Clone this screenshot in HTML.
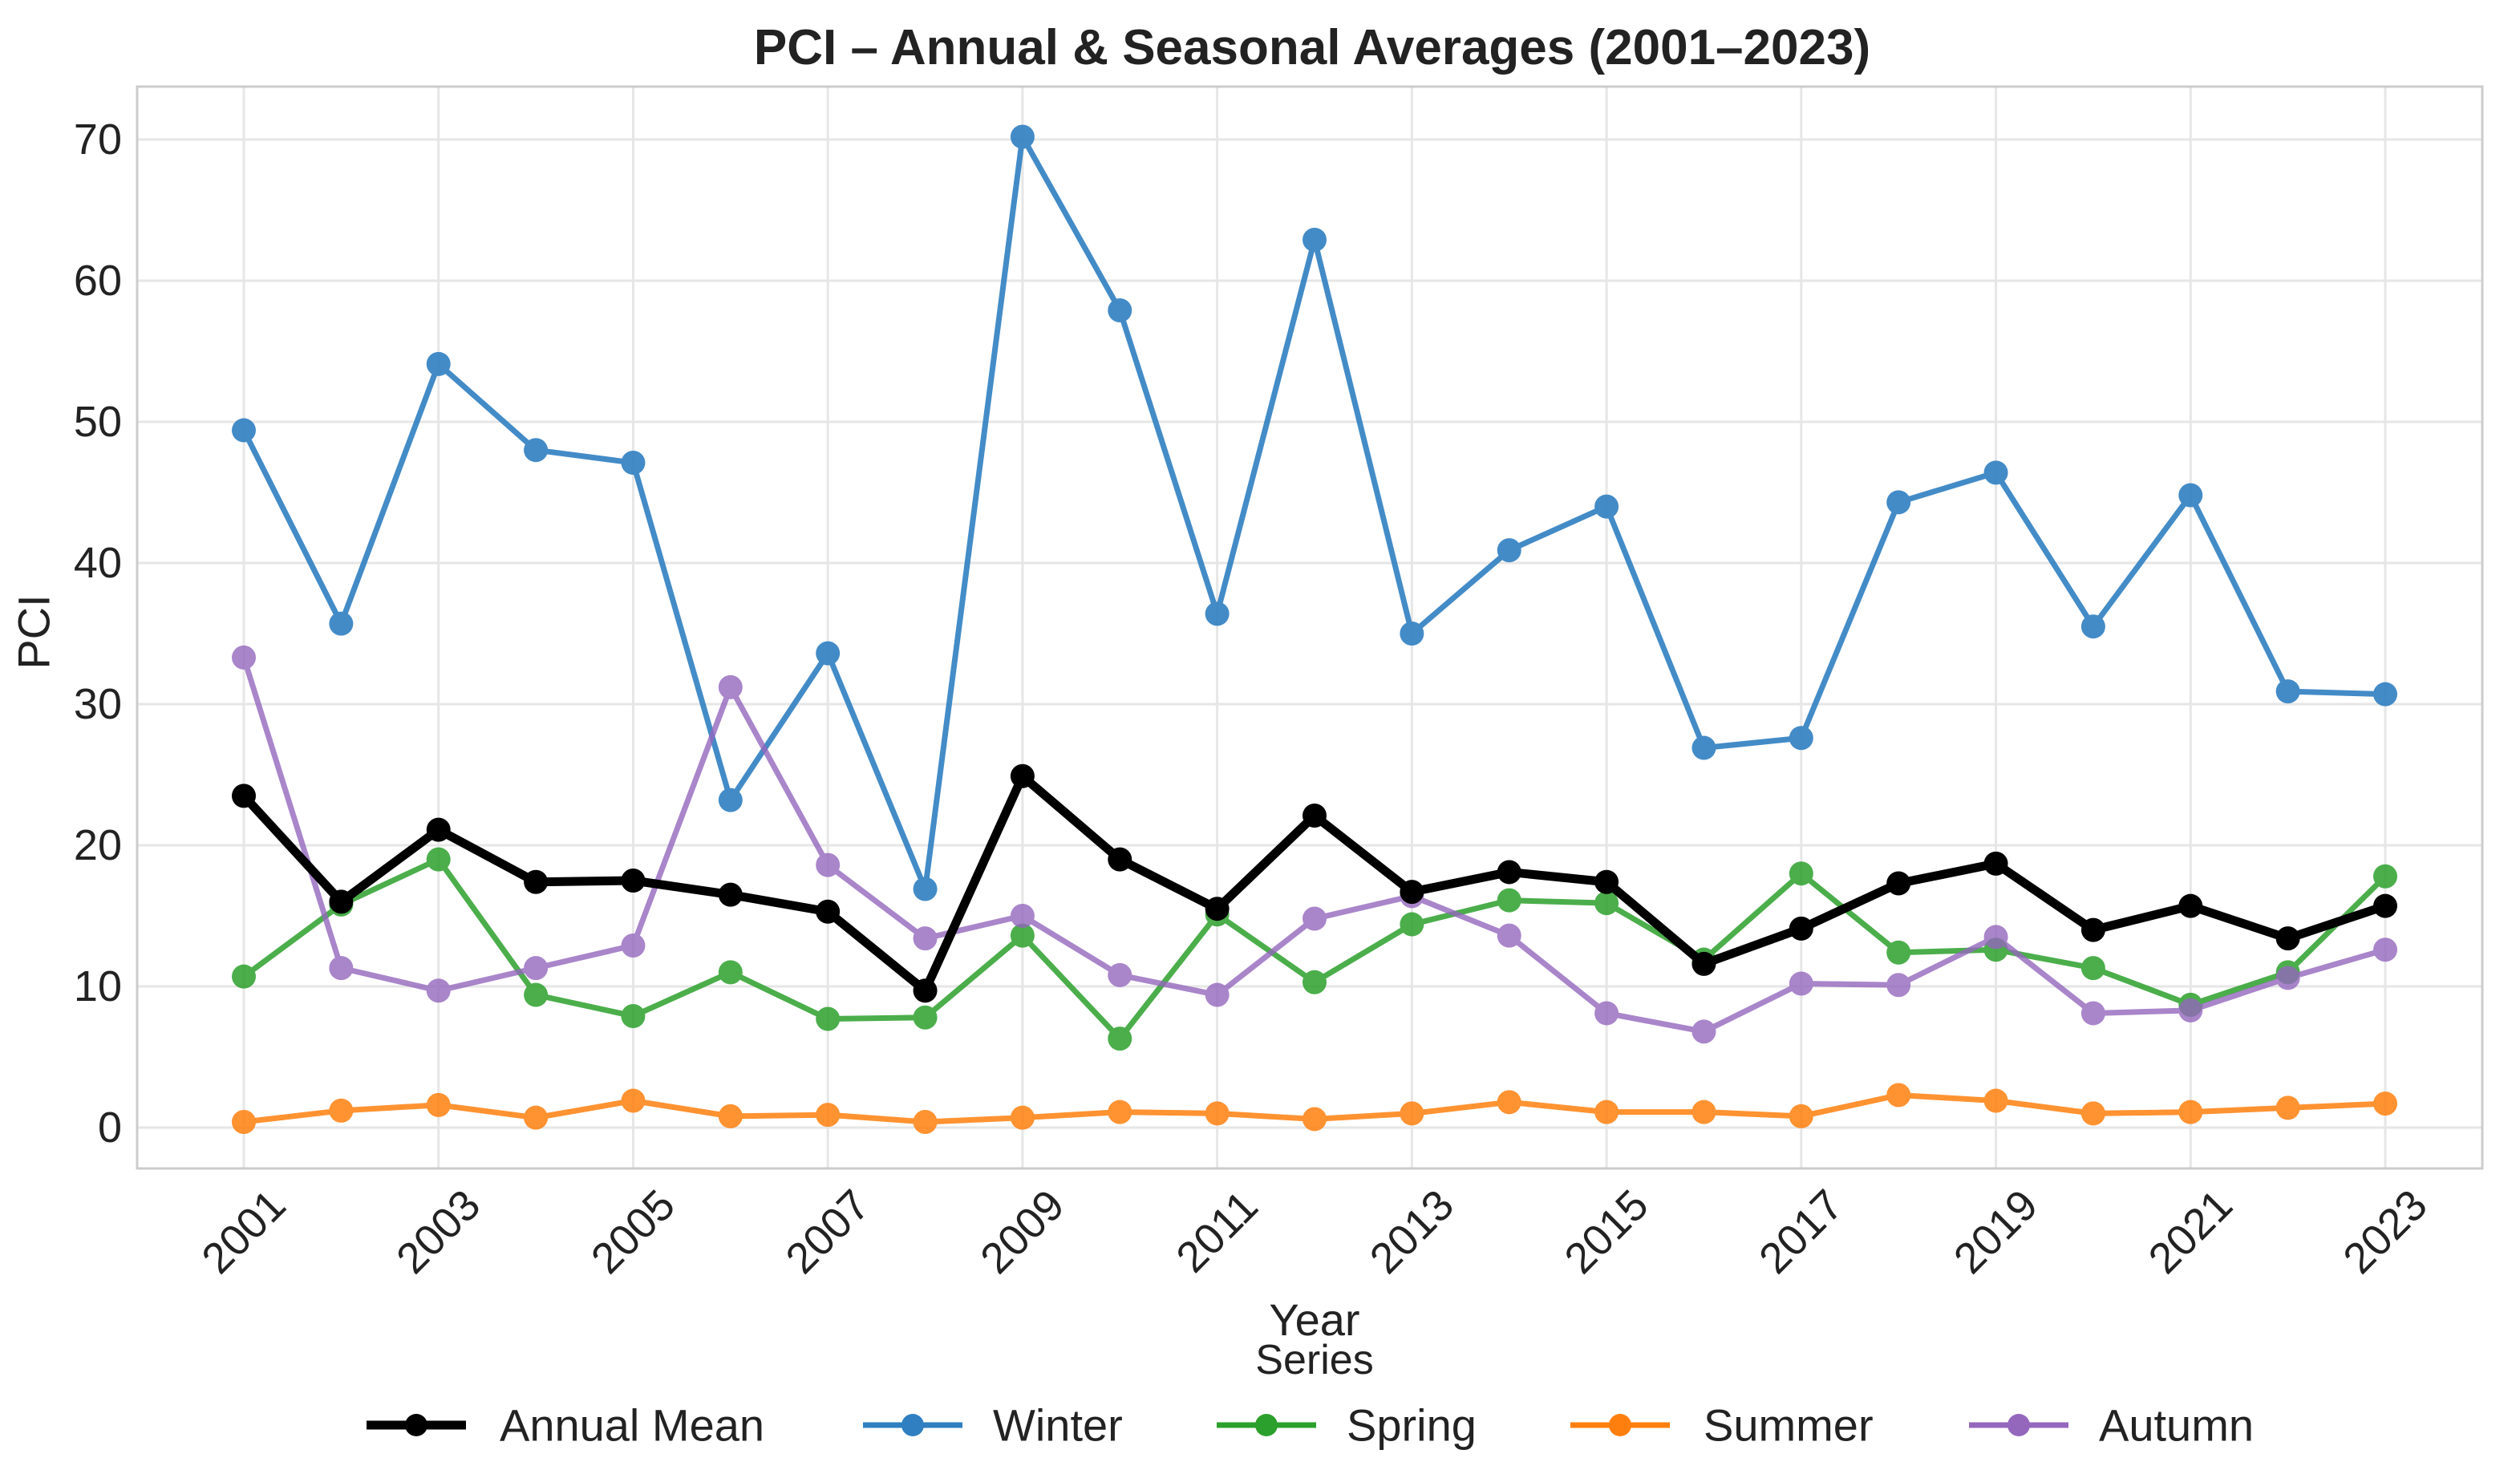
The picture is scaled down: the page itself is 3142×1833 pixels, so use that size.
<!DOCTYPE html>
<html><head><meta charset="utf-8"><style>
html,body{margin:0;padding:0;background:#fff;}
svg{display:block;font-family:"Liberation Sans",Arial,sans-serif;}
</style></head><body>
<svg id="chart" width="3142" height="1833" viewBox="0 0 3142 1833">
<rect x="0" y="0" width="3142" height="1833" fill="#fff"/>
<g id="grid"></g>
<rect x="171" y="108" width="2924" height="1349" fill="none" stroke="#cccccc" stroke-width="3"/>
<g id="series"></g>
<g id="ticks"></g>
<text x="1636" y="80" text-anchor="middle" font-size="62" font-weight="bold" fill="#222">PCI – Annual &amp; Seasonal Averages (2001–2023)</text>
<text x="42" y="788" text-anchor="middle" font-size="56" fill="#222" transform="rotate(-90 42 788)" dominant-baseline="central">PCI</text>
<text x="1639" y="1665" text-anchor="middle" font-size="56" fill="#222">Year</text>
<text x="1639" y="1713" text-anchor="middle" font-size="52" fill="#222">Series</text>
<g id="legend"></g>
</svg>
<script>
const years = [2001,2002,2003,2004,2005,2006,2007,2008,2009,2010,2011,2012,2013,2014,2015,2016,2017,2018,2019,2020,2021,2022,2023];
const annualMean = [23.5,16.0,21.1,17.4,17.5,16.5,15.3,9.7,24.9,19.0,15.5,22.1,16.7,18.1,17.4,11.6,14.1,17.3,18.7,14.0,15.7,13.4,15.7];
const winter = [49.4,35.7,54.1,48.0,47.1,23.2,33.6,16.9,70.2,57.9,36.4,62.9,35.0,40.9,44.0,26.9,27.6,44.3,46.4,35.5,44.8,30.9,30.7];
const spring = [10.7,15.8,19.0,9.4,7.9,11.0,7.7,7.8,13.6,6.3,15.1,10.3,14.4,16.1,15.9,11.9,18.0,12.4,12.6,11.3,8.7,11.0,17.8];
const summer = [0.4,1.2,1.6,0.7,1.9,0.8,0.9,0.4,0.7,1.1,1.0,0.6,1.0,1.8,1.1,1.1,0.8,2.3,1.9,1.0,1.1,1.4,1.7];
const autumn = [33.3,11.3,9.7,11.3,12.9,31.2,18.6,13.4,15.0,10.8,9.4,14.8,16.4,13.6,8.1,6.8,10.2,10.1,13.5,8.1,8.3,10.6,12.6];
const yTicks = [0,10,20,30,40,50,60,70];
const xTicks = [2001,2003,2005,2007,2009,2011,2013,2015,2017,2019,2021,2023];
const seriesNames = ["Annual Mean","Winter","Spring","Summer","Autumn"];

const NS="http://www.w3.org/2000/svg";
const X0=171,X1=3095,Y0=108,Y1=1457;
function xs(yr){return 304+(yr-2001)*(2974-304)/22;}
function ys(v){return 1406-v*17.6;}
function mk(tag,attrs,parent){const e=document.createElementNS(NS,tag);for(const k in attrs)e.setAttribute(k,attrs[k]);parent.appendChild(e);return e;}

const grid=document.getElementById('grid');
const ticks=document.getElementById('ticks');
yTicks.forEach(t=>{
  const l=mk('line',{x1:X0,x2:X1,y1:ys(t),y2:ys(t),stroke:'#e6e6e6','stroke-width':3},grid);
  
  
  const tx=mk('text',{x:152,y:ys(t),'text-anchor':'end','dominant-baseline':'central','font-size':54,fill:'#222'},ticks);
  tx.textContent=t;
  
  
});
xTicks.forEach(t=>{
  const l=mk('line',{x1:xs(t),x2:xs(t),y1:Y0,y2:Y1,stroke:'#e6e6e6','stroke-width':3},grid);
  
  
  const cx=xs(t),cy=1536;
  const tx=mk('text',{x:cx,y:cy,'text-anchor':'middle','dominant-baseline':'central','font-size':54,fill:'#222',transform:`rotate(-45 ${cx} ${cy})`},ticks);
  tx.textContent=t;
  
  
});

const defs=[
 {data:winter,color:'#2f7fc1',w:7,r:15,op:0.9,name:'winter'},
 {data:spring,color:'#2ca02c',w:7,r:15,op:0.85,name:'spring'},
 {data:summer,color:'#ff7f0e',w:7,r:15,op:0.85,name:'summer'},
 {data:autumn,color:'#9467bd',w:7,r:15,op:0.8,name:'autumn'},
 {data:annualMean,color:'#000000',w:11,r:15,op:1,name:'annual-mean'}
];
const sg=document.getElementById('series');
defs.forEach(d=>{
  const g=mk('g',{opacity:d.op},sg);
  
  
  const pts=d.data.map((v,i)=>xs(years[i])+','+ys(v)).join(' ');
  const pl=mk('polyline',{points:pts,fill:'none',stroke:d.color,'stroke-width':d.w,'stroke-linejoin':'round'},g);
  
  
  d.data.forEach((v,i)=>{
    const c=mk('circle',{cx:xs(years[i]),cy:ys(v),r:d.r,fill:d.color},g);
    
    
  });
});

const lg=document.getElementById('legend');
const legColors=['#000','#2f7fc1','#2ca02c','#ff7f0e','#9467bd'];
const legW=[11,7,7,7,7];
const legX=[457,1076,1517,1958,2455];
const legTextX=[623,1238,1679,2124,2617];
seriesNames.forEach((n,i)=>{
  const y=1777;
  const l=mk('line',{x1:legX[i],x2:legX[i]+124,y1:y,y2:y,stroke:legColors[i],'stroke-width':legW[i]},lg);
  
  
  const c=mk('circle',{cx:legX[i]+62,cy:y,r:14,fill:legColors[i]},lg);
  
  
  const t=mk('text',{x:legTextX[i],y:y,'dominant-baseline':'central','font-size':56,fill:'#222'},lg);
  t.textContent=n;
  
  
});
</script>
</body></html>
